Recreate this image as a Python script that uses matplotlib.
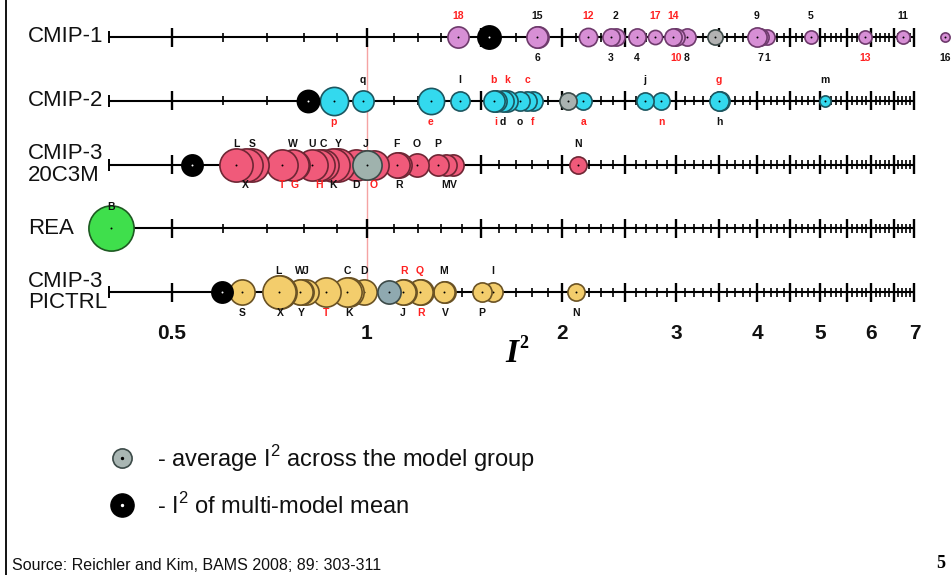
import numpy as np
import matplotlib
matplotlib.use("Agg")
import matplotlib.pyplot as plt
from matplotlib.transforms import blended_transform_factory

# ---- data: I^2 value, circle radius (px), label, side, label colour
RED = "#ff2020"
BLK = "#111111"

cmip1_val = [1.382, 1.830, 1.836, 2.194, 2.381, 2.423, 2.611, 2.784, 2.968, 2.999,
             3.119, 4.000, 4.043, 4.145, 4.846, 5.873, 6.720, 7.800]
cmip1_rad = [10, 10, 10, 8.5, 8, 8, 8, 6.5, 8, 8, 8, 9, 8, 7, 6, 6, 6, 4]
cmip1_lab = ["18", "15", "6", "12", "3", "2", "4", "17", "14", "10",
             "8", "9", "7", "1", "5", "13", "11", "16"]
cmip1_pos = ["a", "a", "b", "a", "b", "a", "b", "a", "a", "b",
             "b", "a", "b", "b", "a", "b", "a", "b"]
cmip1_col = [RED, BLK, BLK, RED, BLK, BLK, BLK, RED, RED, RED,
             BLK, BLK, BLK, BLK, BLK, RED, BLK, BLK]

cmip2_val = [0.889, 0.986, 1.255, 1.392, 1.570, 1.582, 1.619, 1.645, 1.723, 1.767,
             1.804, 2.156, 2.687, 2.844, 3.494, 3.506, 5.094]
cmip2_rad = [13.5, 10, 12.5, 9, 10, 10, 10, 10, 9, 9, 9, 8, 8, 8, 9, 9, 5]
cmip2_lab = ["p", "q", "e", "l", "b", "i", "d", "k", "o", "c",
             "f", "a", "j", "n", "g", "h", "m"]
cmip2_pos = ["b", "a", "b", "a", "a", "b", "b", "a", "b", "a",
             "b", "b", "a", "b", "a", "b", "a"]
cmip2_col = [RED, BLK, RED, BLK, RED, RED, BLK, RED, BLK, RED,
             RED, RED, BLK, RED, RED, BLK, BLK]

c20_val = [0.628, 0.650, 0.664, 0.739, 0.769, 0.774, 0.822, 0.843, 0.855, 0.886,
           0.902, 0.962, 0.996, 1.025, 1.112, 1.120, 1.195, 1.287, 1.324, 1.358, 2.117]
c20_rad = [16, 16, 16, 15, 15, 14, 15, 15, 15, 16, 16, 15, 14, 14, 12, 12, 11, 10, 10, 10, 8]
c20_lab = ["L", "X", "S", "T", "W", "G", "U", "H", "C", "K",
           "Y", "D", "J", "O", "F", "R", "O", "P", "M", "V", "N"]
c20_pos = ["a", "b", "a", "b", "a", "b", "a", "b", "a", "b",
           "a", "b", "a", "b", "a", "b", "a", "a", "b", "b", "a"]
c20_col = [BLK, BLK, BLK, RED, BLK, RED, BLK, RED, BLK, BLK,
           BLK, BLK, BLK, RED, BLK, BLK, BLK, BLK, BLK, BLK, BLK]

rea_val = [0.402]
rea_rad = [22]
rea_lab = ["B"]
rea_pos = ["a"]
rea_col = [BLK]

pic_val = [0.641, 0.731, 0.734, 0.788, 0.791, 0.805, 0.865, 0.931, 0.938, 0.989,
           1.137, 1.141, 1.207, 1.210, 1.315, 1.320, 1.505, 1.565, 2.102]
pic_rad = [12, 16, 16, 12, 12, 12, 14, 14, 14, 12, 12, 12, 12, 12, 10, 10, 9, 9, 8]
pic_lab = ["S", "L", "X", "W", "Y", "J", "T", "C", "K", "D",
           "J", "R", "Q", "R", "M", "V", "P", "I", "N"]
pic_pos = ["b", "a", "b", "a", "b", "a", "b", "a", "b", "a",
           "b", "a", "a", "b", "a", "b", "b", "a", "b"]
pic_col = [BLK, BLK, BLK, BLK, BLK, BLK, RED, BLK, BLK, BLK,
           BLK, RED, RED, RED, BLK, BLK, BLK, BLK, BLK]

# group average (grey) and multi-model mean (black): value, radius
avg_val = [3.445, 2.043, 1.000, None, 1.081]
avg_rad = [7, 8, 14, None, 11]
mmm_val = [1.543, 0.811, 0.537, None, 0.597]
mmm_rad = [11, 10.5, 10, None, 10]

row_names = ["CMIP-1", "CMIP-2", "CMIP-3\n20C3M", "REA", "CMIP-3\nPICTRL"]
row_face = ["#d78fd5", "#33d9ee", "#f05a7a", "#3fdf4c", "#f3cd6c"]
row_edge = ["#6e3a6c", "#1c5660", "#6e2634", "#1e5a22", "#6a5224"]
avg_face = ["#b2b2b2", "#a9b2b0", "#9fb2ad", None, "#8fa9b0"]

groups = [
    (cmip1_val, cmip1_rad, cmip1_lab, cmip1_pos, cmip1_col),
    (cmip2_val, cmip2_rad, cmip2_lab, cmip2_pos, cmip2_col),
    (c20_val, c20_rad, c20_lab, c20_pos, c20_col),
    (rea_val, rea_rad, rea_lab, rea_pos, rea_col),
    (pic_val, pic_rad, pic_lab, pic_pos, pic_col),
]

major_ticks = [0.5, 1, 1.5, 2, 2.5, 3, 3.5, 4, 4.5, 5, 5.5, 6, 6.5, 7]
tick_labels = {0.5: "0.5", 1: "1", 2: "2", 3: "3", 4: "4", 5: "5", 6: "6", 7: "7"}
minor_ticks = [round(t, 1) for t in np.arange(0.6, 7.0, 0.1)
               if round(t, 1) not in major_ticks]

W, H = 951, 575
PX = 63.75  # pixels per row unit


def s_from_r(r):
    # radius in pixels -> scatter area in points^2 (outline adds a bit)
    return (2 * (r + 0.6) * 0.72) ** 2


fig = plt.figure(figsize=(W / 100, H / 100), dpi=100)
ax = fig.add_axes([0, 0, 1, 1])
ax.set_xscale("log", base=2)
ax.set_xlim(2 ** (-367 / 195), 2 ** (584 / 195))
ax.set_ylim((H - 37) / PX, -37 / PX)
ax.axis("off")

sans = ["Liberation Sans", "DejaVu Sans"]

# reference line at I^2 = 1
ax.vlines(1, 8 / PX, 4 + 13 / PX, color="#f5a3a3", lw=1.0, zorder=0.5)

trans_lab = blended_transform_factory(fig.transFigure, ax.transData)

for i in range(5):
    y = i
    ax.hlines(y, 0.4, 7, color="black", lw=1.5, zorder=1)
    ax.vlines(0.4, y - 6 / PX, y + 6 / PX, color="black", lw=1.4, zorder=1)
    ax.vlines(major_ticks, y - 9.5 / PX, y + 9.5 / PX, color="black", lw=1.7, zorder=1)
    ax.vlines(minor_ticks, y - 4.5 / PX, y + 4.5 / PX, color="black", lw=1.2, zorder=1)

    ax.text(28 / W, y, row_names[i], transform=trans_lab, ha="left", va="center",
            fontsize=16, family=sans, linespacing=1.02, color="#111111")

    vals, rads, labs, poss, cols = groups[i]
    order = np.argsort(vals)
    n = len(vals)
    for rank, k in enumerate(order):
        z = 10 + (n - rank) * 0.1
        ax.scatter([vals[k]], [y], s=s_from_r(rads[k]), c=row_face[i],
                   edgecolors=row_edge[i], linewidths=1.2, zorder=z)
        ax.scatter([vals[k]], [y], s=2, c="black", zorder=z + 0.05, linewidths=0)
        dy = 15 if poss[k] == "a" else -15
        ax.annotate(labs[k], (vals[k], y), xytext=(0, dy), textcoords="offset points",
                    ha="center", va="center", fontsize=7.5, fontweight="bold",
                    color=cols[k], family=sans, zorder=20)

    if avg_val[i] is not None:
        ax.scatter([avg_val[i]], [y], s=s_from_r(avg_rad[i]), c=avg_face[i],
                   edgecolors="#3c4a48", linewidths=1.2, zorder=15)
        ax.scatter([avg_val[i]], [y], s=2, c="black", zorder=15.1, linewidths=0)
    if mmm_val[i] is not None:
        ax.scatter([mmm_val[i]], [y], s=s_from_r(mmm_rad[i]), c="black",
                   edgecolors="black", linewidths=1.2, zorder=16)
        ax.scatter([mmm_val[i]], [y], s=2, c="white", zorder=16.1, linewidths=0)

# axis numbers below the last row
for t, lab in tick_labels.items():
    ax.annotate(lab, (t, 4), xytext=(0, -30), textcoords="offset points",
                ha="center", va="center", fontsize=15, fontweight="bold",
                family=sans, color="#111111")

fig.text(512 / W, 1 - 353 / H, "I", ha="center", va="center", fontsize=24,
         fontweight="bold", fontstyle="italic", family="Liberation Serif")
fig.text(524 / W, 1 - 343 / H, "2", ha="center", va="center", fontsize=13,
         fontweight="bold", family="Liberation Serif")

# legend
ax.scatter([122 / W], [1 - 458 / H], s=s_from_r(9), c="#a9b6b3", edgecolors="#3c4a48",
           linewidths=1.2, transform=ax.transAxes, zorder=10)
ax.scatter([122 / W], [1 - 458 / H], s=2, c="black", transform=ax.transAxes, zorder=11)
ax.scatter([122 / W], [1 - 505 / H], s=s_from_r(11), c="black",
           transform=ax.transAxes, zorder=10)
ax.scatter([122 / W], [1 - 505 / H], s=2, c="white", transform=ax.transAxes, zorder=11)
fig.text(157 / W, 1 - 459 / H, r"- average I$^\mathregular{2}$ across the model group",
         ha="left", va="center", fontsize=17, family=sans, color="#111111")
fig.text(157 / W, 1 - 506 / H, r"- I$^\mathregular{2}$ of multi-model mean",
         ha="left", va="center", fontsize=17, family=sans, color="#111111")

fig.text(12 / W, 1 - 565 / H, "Source: Reichler and Kim, BAMS 2008; 89: 303-311",
         ha="left", va="center", fontsize=11.5, family=sans, color="#111111")
fig.text(941 / W, 1 - 563 / H, "5", ha="center", va="center", fontsize=13,
         fontweight="bold", family="Liberation Serif")

# slide frame on the left
fig.add_artist(plt.Line2D([6 / W, 6 / W], [0, 1], color="black", lw=1.3))

fig.savefig("out.png", dpi=100, facecolor="white")
